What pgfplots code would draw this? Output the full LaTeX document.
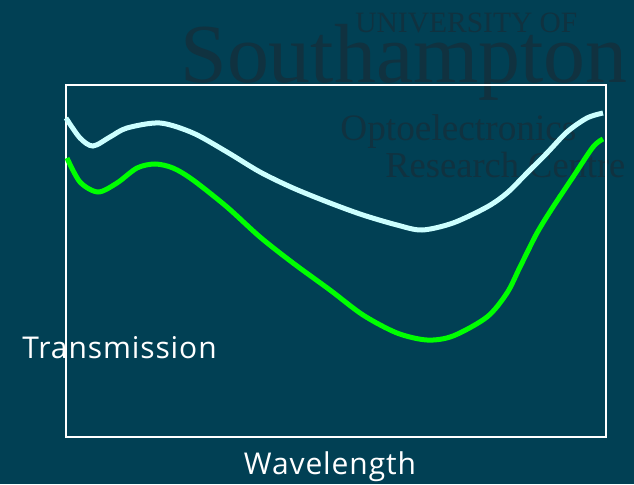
\documentclass[border=0pt]{standalone}
\usepackage{pgfplots}
\pgfplotsset{compat=1.18}
\usepackage{fontspec}
\setmainfont{Open Sans}[LetterSpace=3]
\newfontfamily\wm{Liberation Serif}
\definecolor{bg}{RGB}{1,64,84}
\definecolor{wmc}{RGB}{16,50,64}
\definecolor{cyanl}{RGB}{204,255,255}
\definecolor{gr}{RGB}{0,255,0}
\begin{document}
\begin{tikzpicture}[x=0.5pt,y=0.5pt]
\fill[bg] (0,0) rectangle (634,484);
% watermark
\node[anchor=base west,inner sep=0,text=wmc] at (355,452) {\resizebox{111pt}{!}{\wm UNIVERSITY OF}};
\node[anchor=base west,inner sep=0,text=wmc] at (180,402) {\resizebox{223.5pt}{!}{\wm Southampton}};
\node[anchor=base west,inner sep=0,text=wmc] at (340,344) {\resizebox{118pt}{!}{\wm Optoelectronics}};
\node[anchor=base west,inner sep=0,text=wmc] at (385,307) {\resizebox{120pt}{!}{\wm Research Centre}};
\begin{axis}[at={(66,47)}, anchor=south west, scale only axis,
  width=270pt, height=176pt,
  xmin=66, xmax=606, ymin=47, ymax=399,
  axis line style={white, line width=1pt},
  ticks=none, clip=false]
\addplot[cyanl, line width=2.5pt, smooth] coordinates {
(66,366) (80,346) (93,338) (110,347) (127,356) (160,361) (193,351) (227,332) (260,312) (293,296) (330,281) (363,269) (397,259) (422,254) (453,261) (487,277) (507,291) (527,311) (547,331) (567,352) (587,366) (603,371)};
\addplot[gr, line width=2.5pt, smooth] coordinates {
(67,326) (80,302) (98,292) (117,301) (137,316) (155,320) (173,316) (193,304) (227,277) (260,247) (293,221) (330,194) (363,169) (397,151) (427,144) (453,148) (487,167) (507,191) (520,217) (537,251) (553,277) (573,307) (593,337) (603,345)};
\end{axis}
\node[anchor=base west,inner sep=0,text=white,font=\fontsize{15pt}{18pt}\selectfont] at (22,126) {Transmission};
\node[anchor=base,inner sep=0,text=white,font=\fontsize{15pt}{18pt}\selectfont] at (330,10) {Wavelength};
\end{tikzpicture}
\end{document}
